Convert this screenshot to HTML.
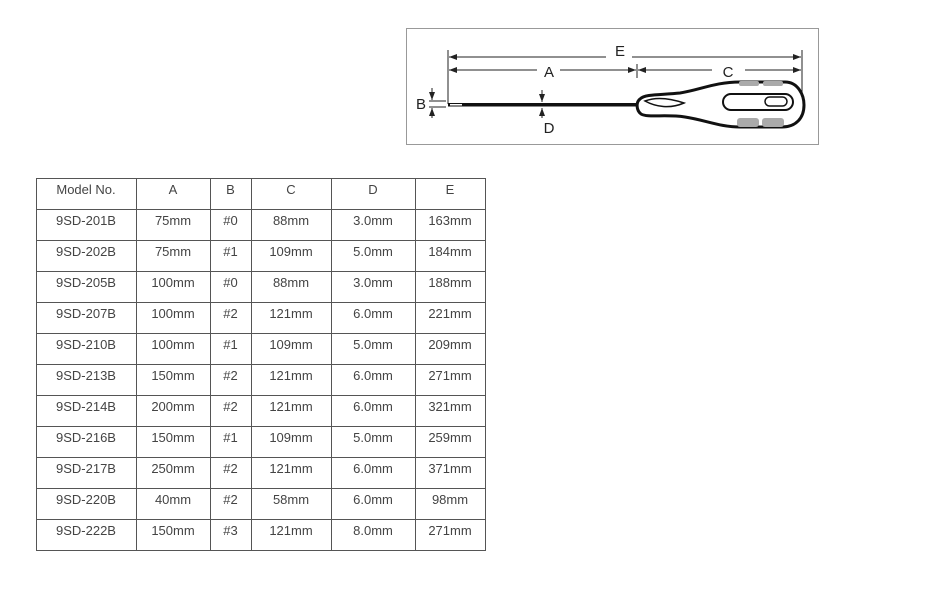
<!DOCTYPE html>
<html><head><style>
body{margin:0;background:#fff;width:945px;height:584px;overflow:hidden;font-family:"Liberation Sans",sans-serif}
</style></head><body>
<svg width="945" height="584" xmlns="http://www.w3.org/2000/svg" font-family="Liberation Sans, sans-serif">
<defs>
<marker id="ar" markerWidth="8" markerHeight="6" refX="8" refY="3" orient="auto"><path d="M0,0 L8,3 L0,6 z" fill="#222"/></marker>
</defs>
<rect x="406.5" y="28.5" width="412" height="116" fill="#fff" stroke="#999"/>
<line x1="448" y1="50" x2="448" y2="104" stroke="#222"/>
<line x1="802" y1="50" x2="802" y2="100" stroke="#222"/>
<line x1="637" y1="64" x2="637" y2="78" stroke="#222"/>
<!-- E -->
<path d="M606,57 L449,57" stroke="#222" marker-end="url(#ar)"/>
<line x1="632" y1="57" x2="801" y2="57" stroke="#222" marker-end="url(#ar)"/>
<text x="620" y="56" font-size="15" text-anchor="middle" fill="#222">E</text>
<!-- A -->
<path d="M537,70 L449,70" stroke="#222" marker-end="url(#ar)"/>
<line x1="560" y1="70" x2="636" y2="70" stroke="#222" marker-end="url(#ar)"/>
<text x="549" y="77" font-size="15" text-anchor="middle" fill="#222">A</text>
<!-- C -->
<path d="M712,70 L638,70" stroke="#222" marker-end="url(#ar)"/>
<line x1="745" y1="70" x2="801" y2="70" stroke="#222" marker-end="url(#ar)"/>
<text x="728" y="77" font-size="15" text-anchor="middle" fill="#222">C</text>
<!-- shaft -->
<rect x="448" y="103" width="192" height="3.5" fill="#111"/>
<rect x="450" y="104" width="12" height="1.5" fill="#fff"/>
<!-- handle -->
<path d="M640,99 C645,94 660,95 680,93 C700,90 715,82 740,82 L785,82 C798,82 804,95 804,105 C804,118 796,127 782,127 L740,127 C720,127 705,120 685,117 C665,114 648,118 641,114 C636,110 636,102 640,99 z" fill="#fff" stroke="#111" stroke-width="3"/>
<path d="M645,101 C658,96 672,99 684,103 C670,109 656,107 645,101 z" fill="none" stroke="#111" stroke-width="1.5"/>
<rect x="723" y="94" width="70" height="16" rx="8" fill="none" stroke="#111" stroke-width="2"/>
<rect x="765" y="97" width="22" height="9" rx="4.5" fill="none" stroke="#111" stroke-width="1.5"/>
<rect x="739" y="81" width="20" height="5" rx="2" fill="#aaa"/>
<rect x="763" y="81" width="20" height="5" rx="2" fill="#aaa"/>
<rect x="737" y="118" width="22" height="9" rx="3" fill="#aaa"/>
<rect x="762" y="118" width="22" height="9" rx="3" fill="#aaa"/>
<!-- B -->
<line x1="432" y1="88" x2="432" y2="100" stroke="#222" marker-end="url(#ar)"/>
<line x1="432" y1="118" x2="432" y2="108" stroke="#222" marker-end="url(#ar)"/>
<line x1="429" y1="101" x2="446" y2="101" stroke="#222"/>
<line x1="429" y1="107" x2="446" y2="107" stroke="#222"/>
<text x="421" y="109" font-size="15" text-anchor="middle" fill="#222">B</text>
<!-- D -->
<line x1="542" y1="90" x2="542" y2="102" stroke="#222" marker-end="url(#ar)"/>
<line x1="542" y1="118" x2="542" y2="108" stroke="#222" marker-end="url(#ar)"/>
<text x="549" y="133" font-size="15" text-anchor="middle" fill="#222">D</text>
<!-- table -->
<g stroke="#555" stroke-width="1" fill="none">
<rect x="36.5" y="178.5" width="449" height="372"/>
<line x1="136.5" y1="178" x2="136.5" y2="551"/>
<line x1="210.5" y1="178" x2="210.5" y2="551"/>
<line x1="251.5" y1="178" x2="251.5" y2="551"/>
<line x1="331.5" y1="178" x2="331.5" y2="551"/>
<line x1="415.5" y1="178" x2="415.5" y2="551"/>
<line x1="36" y1="209.5" x2="486" y2="209.5"/><line x1="36" y1="240.5" x2="486" y2="240.5"/>
<line x1="36" y1="271.5" x2="486" y2="271.5"/><line x1="36" y1="302.5" x2="486" y2="302.5"/>
<line x1="36" y1="333.5" x2="486" y2="333.5"/><line x1="36" y1="364.5" x2="486" y2="364.5"/>
<line x1="36" y1="395.5" x2="486" y2="395.5"/><line x1="36" y1="426.5" x2="486" y2="426.5"/>
<line x1="36" y1="457.5" x2="486" y2="457.5"/><line x1="36" y1="488.5" x2="486" y2="488.5"/>
<line x1="36" y1="519.5" x2="486" y2="519.5"/>
</g>
<g font-size="13" fill="#444" text-anchor="middle">
<g transform="translate(0,194)"><text x="86">Model No.</text><text x="173">A</text><text x="230.5">B</text><text x="291">C</text><text x="373">D</text><text x="450">E</text></g>
<g transform="translate(0,225)"><text x="86">9SD-201B</text><text x="173">75mm</text><text x="230.5">#0</text><text x="291">88mm</text><text x="373">3.0mm</text><text x="450">163mm</text></g>
<g transform="translate(0,256)"><text x="86">9SD-202B</text><text x="173">75mm</text><text x="230.5">#1</text><text x="291">109mm</text><text x="373">5.0mm</text><text x="450">184mm</text></g>
<g transform="translate(0,287)"><text x="86">9SD-205B</text><text x="173">100mm</text><text x="230.5">#0</text><text x="291">88mm</text><text x="373">3.0mm</text><text x="450">188mm</text></g>
<g transform="translate(0,318)"><text x="86">9SD-207B</text><text x="173">100mm</text><text x="230.5">#2</text><text x="291">121mm</text><text x="373">6.0mm</text><text x="450">221mm</text></g>
<g transform="translate(0,349)"><text x="86">9SD-210B</text><text x="173">100mm</text><text x="230.5">#1</text><text x="291">109mm</text><text x="373">5.0mm</text><text x="450">209mm</text></g>
<g transform="translate(0,380)"><text x="86">9SD-213B</text><text x="173">150mm</text><text x="230.5">#2</text><text x="291">121mm</text><text x="373">6.0mm</text><text x="450">271mm</text></g>
<g transform="translate(0,411)"><text x="86">9SD-214B</text><text x="173">200mm</text><text x="230.5">#2</text><text x="291">121mm</text><text x="373">6.0mm</text><text x="450">321mm</text></g>
<g transform="translate(0,442)"><text x="86">9SD-216B</text><text x="173">150mm</text><text x="230.5">#1</text><text x="291">109mm</text><text x="373">5.0mm</text><text x="450">259mm</text></g>
<g transform="translate(0,473)"><text x="86">9SD-217B</text><text x="173">250mm</text><text x="230.5">#2</text><text x="291">121mm</text><text x="373">6.0mm</text><text x="450">371mm</text></g>
<g transform="translate(0,504)"><text x="86">9SD-220B</text><text x="173">40mm</text><text x="230.5">#2</text><text x="291">58mm</text><text x="373">6.0mm</text><text x="450">98mm</text></g>
<g transform="translate(0,535)"><text x="86">9SD-222B</text><text x="173">150mm</text><text x="230.5">#3</text><text x="291">121mm</text><text x="373">8.0mm</text><text x="450">271mm</text></g>
</g>
</svg>
</body></html>
